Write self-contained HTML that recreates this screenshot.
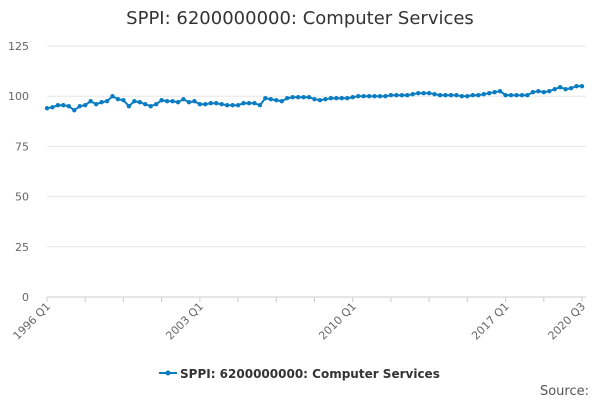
<!DOCTYPE html>
<html><head><meta charset="utf-8"><style>
body{margin:0;background:#fff;font-family:"DejaVu Sans",sans-serif}
svg text{font-family:"DejaVu Sans",sans-serif}
</style></head><body>
<svg id="c" width="600" height="400">
<text x="300" y="24" text-anchor="middle" font-size="18" fill="#333">SPPI: 6200000000: Computer Services</text>
<g id="grid"></g><g id="xa"></g><g id="series"></g>
<g>
<line x1="159" y1="373" x2="177" y2="373" stroke="#0a7dc2" stroke-width="2"/>
<circle cx="168" cy="373" r="2.5" fill="#0a7dc2"/>
<text x="180" y="378" font-size="12" font-weight="bold" fill="#333">SPPI: 6200000000: Computer Services</text>
</g>
<text x="589" y="395" text-anchor="end" font-size="13" fill="#555">Source:</text>
</svg>
<script>
const values=[94,94.5,95.5,95.5,95,93,95,95.5,97.5,96,97,97.5,100,98.5,98,95,97.5,97,96,95,96,98,97.5,97.5,97,98.5,97,97.5,96,96,96.5,96.5,96,95.5,95.5,95.5,96.5,96.5,96.5,95.5,99,98.5,98,97.5,99,99.5,99.5,99.5,99.5,98.5,98,98.5,99,99,99,99,99.5,100,100,100,100,100,100,100.5,100.5,100.5,100.5,101,101.5,101.5,101.5,101,100.5,100.5,100.5,100.5,100,100,100.5,100.5,101,101.5,102,102.5,100.5,100.5,100.5,100.5,100.5,102,102.5,102,102.5,103.5,104.5,103.5,104,105,105];
const yTicks=[0,25,50,75,100,125];
const xLabels=["1996 Q1","2003 Q1","2010 Q1","2017 Q1","2020 Q3"];
const xLabelIdx=[0,28,56,84,98];
const NS="http://www.w3.org/2000/svg";
const x0=47,x1=582,y0=297,y1=46;
const X=i=>x0+i*(x1-x0)/(values.length-1);
const Y=v=>y0-(v/125)*(y0-y1);
function mk(t,a,p){const e=document.createElementNS(NS,t);for(const k in a)e.setAttribute(k,a[k]);p.appendChild(e);return e;}
const g=document.getElementById('grid');
yTicks.forEach(v=>{
 const l=mk('line',{x1:x0,x2:x1+4,y1:Y(v),y2:Y(v),stroke:v===0?'#ccc':'#e6e6e6'},g);
 
 
 const t=mk('text',{x:29,y:Y(v)+4,'text-anchor':'end','font-size':11,fill:'#666'},g);
 t.textContent=v;
 
 
});
const xa=document.getElementById('xa');
for(let i=0;i<values.length;i+=7){mk('line',{x1:X(i),x2:X(i),y1:y0,y2:y0+5,stroke:'#ccc'},xa);}
mk('line',{x1:X(98),x2:X(98),y1:y0,y2:y0+5,stroke:'#ccc'},xa);
xLabels.forEach((s,k)=>{
 const x=X(xLabelIdx[k]),y=y0+10;
 const t=mk('text',{x:x+4,y:y,'text-anchor':'end','font-size':11,fill:'#666',transform:`rotate(-45 ${x+4} ${y})`},xa);
 t.textContent=s;
 
 
});
const s=document.getElementById('series');
const p=mk('polyline',{points:values.map((v,i)=>X(i)+','+Y(v)).join(' '),fill:'none',stroke:'#0a7dc2','stroke-width':2},s);


values.forEach((v,i)=>{
 const c=mk('circle',{cx:X(i),cy:Y(v),r:2.2,fill:'#0a7dc2'},s);
 
 
});
</script>
</body></html>
